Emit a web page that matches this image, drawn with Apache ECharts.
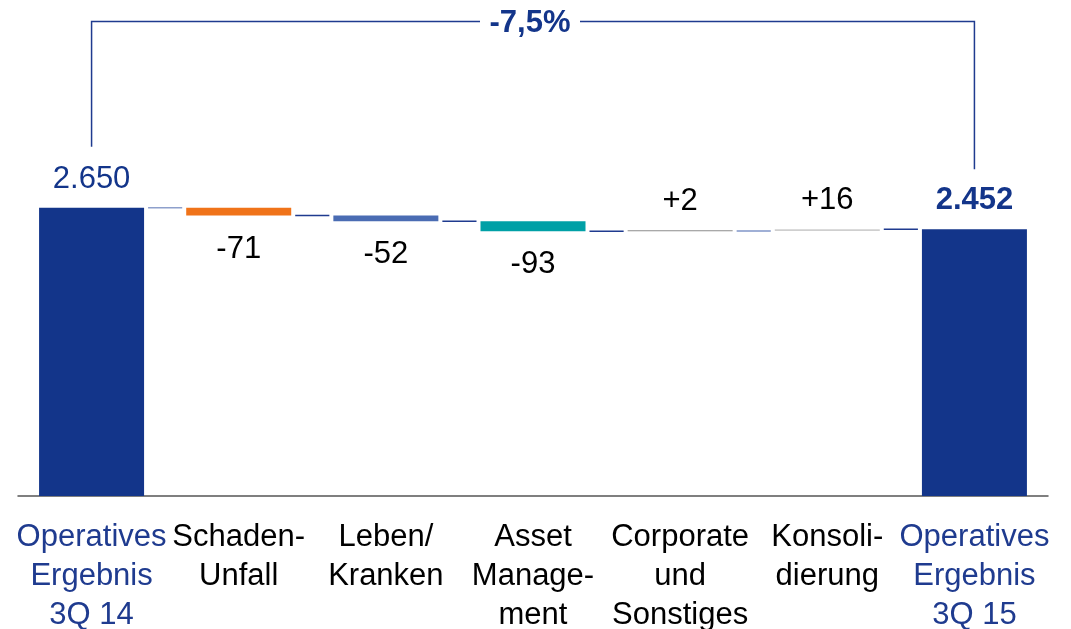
<!DOCTYPE html>
<html>
<head>
<meta charset="utf-8">
<script src="https://cdn.jsdelivr.net/npm/echarts@6/dist/echarts.min.js"></script>
<style>
html,body{margin:0;padding:0;background:#fff;}
#chart{width:1071px;height:629px;}
</style>
</head>
<body>
<div id="chart"></div>
<script>
// ---- data ----
const categories = ['Operatives\nErgebnis\n3Q 14', 'Schaden-\nUnfall', 'Leben/\nKranken', 'Asset\nManage-\nment', 'Corporate\nund\nSonstiges', 'Konsoli-\ndierung', 'Operatives\nErgebnis\n3Q 15'];
const startValue = 2650;
const deltas = [-71, -52, -93, 2, 16];
const endValue = 2452;

// ---- styles ----
const NAVY = '#13358a';
const LABEL_BLUE = '#1f3b8f';
const FONT = 'Liberation Sans, Arial, sans-serif';
const barColors = [NAVY, '#f07319', '#4a6cb3', '#00a0a6', '#8c8c8c', '#cfcfcf', NAVY];
const connectorColors = ['#8ea0cc', '#1f3b8f', '#1f3b8f', '#1f3b8f', '#8196c8', '#1f3b8f'];

// build waterfall from data
const baseData = [0];
const valueData = [startValue];
const levels = [startValue];
let level = startValue;
deltas.forEach(d => {
  if (d < 0) { baseData.push(level + d); valueData.push(-d); }
  else { baseData.push(level); valueData.push(d); }
  level += d;
  levels.push(level);
});
baseData.push(0);
valueData.push(endValue);

const fmt = v => v.toLocaleString('de-DE');
const labelTexts = [fmt(startValue)].concat(deltas.map(d => (d > 0 ? '+' : '') + fmt(d))).concat([fmt(endValue)]);

const connectorData = levels.map((l, i) => ({ value: [i, l], itemStyle: { color: connectorColors[i] } }));

const valueSeriesData = valueData.map((v, i) => {
  const isDelta = i > 0 && i < categories.length - 1;
  const neg = isDelta && deltas[i - 1] < 0;
  return {
    value: v,
    itemStyle: { color: barColors[i] },
    label: {
      show: true,
      position: neg ? 'bottom' : 'top',
      distance: neg ? 18 : 13,
      formatter: labelTexts[i],
      color: isDelta ? '#000' : NAVY,
      fontWeight: i === categories.length - 1 ? 'bold' : 'normal',
      fontSize: 31,
      fontFamily: FONT
    }
  };
});

const chart = echarts.init(document.getElementById('chart'), null, { renderer: 'canvas' });
chart.setOption({
  animation: false,
  backgroundColor: '#fff',
  grid: { left: 18, right: 23, top: 61, bottom: 133, containLabel: false, outerBoundsMode: 'none' },
  xAxis: {
    type: 'category',
    data: categories,
    axisTick: { show: false },
    axisLine: { show: true, lineStyle: { color: '#555', width: 1.5 } },
    axisLabel: {
      interval: 0,
      hideOverlap: false,
      margin: 22,
      fontSize: 31,
      lineHeight: 39,
      fontFamily: FONT,
      color: (v, i) => (i === 0 || i === categories.length - 1) ? LABEL_BLUE : '#000'
    }
  },
  yAxis: {
    type: 'value', min: 0, max: 4000, show: false,
    splitLine: { show: false }
  },
  series: [
    {
      type: 'bar', stack: 'wf', data: baseData, barWidth: 105,
      itemStyle: { color: 'transparent' }, silent: true
    },
    {
      type: 'bar', stack: 'wf', data: valueSeriesData, barWidth: 105, barMinHeight: 1
    },
    {
      type: 'custom',
      data: connectorData,
      renderItem: function (params, api) {
        const i = api.value(0);
        const lv = api.value(1);
        const p = api.coord([i, lv]);
        const bandW = api.size([1, 0])[0];
        const bw = 105;
        const x1 = p[0] + bw / 2 + 4;
        const x2 = p[0] + bandW - bw / 2 - 4;
        return {
          type: 'line',
          shape: { x1: x1, y1: p[1], x2: x2, y2: p[1] },
          style: { stroke: api.visual('color'), lineWidth: 1.5 }
        };
      }
    }
  ]
});

// bracket with percentage change
const pct = (endValue / startValue - 1) * 100;
const pctText = (pct > 0 ? '+' : '') + pct.toFixed(1).replace('.', ',') + '%';
const pL = chart.convertToPixel({ xAxisIndex: 0, yAxisIndex: 0 }, [0, startValue]);
const pR = chart.convertToPixel({ xAxisIndex: 0, yAxisIndex: 0 }, [categories.length - 1, endValue]);
const topY = 21.5;
const midX = (pL[0] + pR[0]) / 2 - 3;
const gap = 50;
chart.setOption({
  graphic: [
    { type: 'polyline', shape: { points: [[pL[0], pL[1] - 61], [pL[0], topY], [midX - gap, topY]] }, style: { stroke: LABEL_BLUE, lineWidth: 1.5, fill: null } },
    { type: 'polyline', shape: { points: [[midX + gap, topY], [pR[0], topY], [pR[0], pR[1] - 60]] }, style: { stroke: LABEL_BLUE, lineWidth: 1.5, fill: null } },
    { type: 'text', x: midX, y: topY + 2, style: { text: pctText, fill: NAVY, font: 'bold 31px Liberation Sans, Arial, sans-serif', align: 'center', verticalAlign: 'middle' } }
  ]
});
</script>
</body>
</html>
